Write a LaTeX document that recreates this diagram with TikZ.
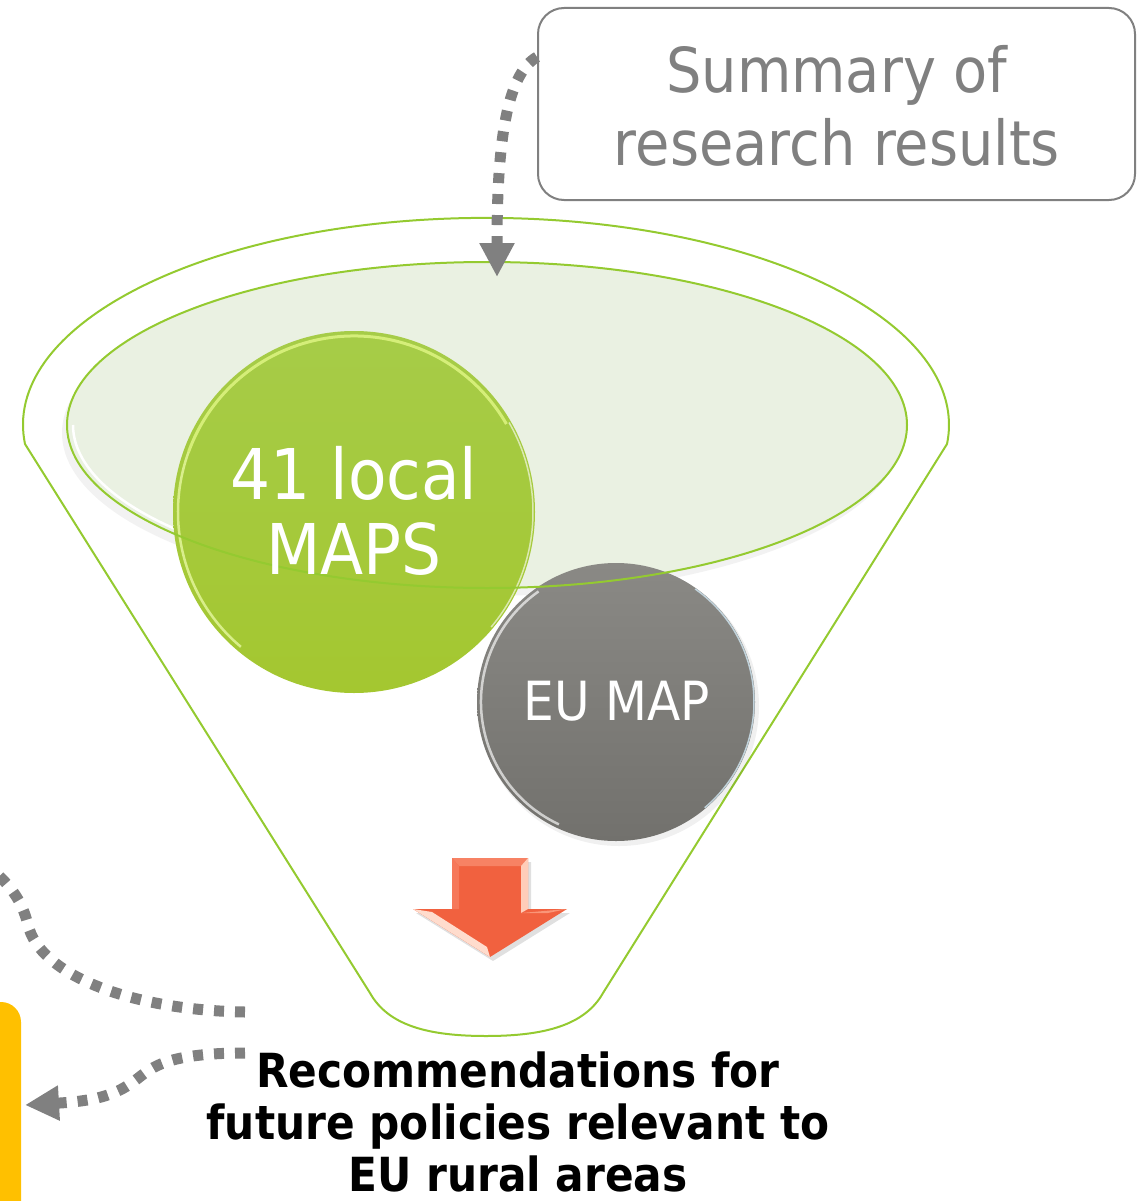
\documentclass[tikz,border=0pt]{standalone}
\usepackage{fontspec}
\setmainfont{DejaVu Sans}[FakeStretch=0.9]
\usetikzlibrary{arrows.meta,calc,shapes.geometric}
\definecolor{fgreen}{RGB}{148,202,48}
\definecolor{ellfill}{RGB}{234,241,226}
\definecolor{agray}{RGB}{128,128,128}
\definecolor{txtgray}{RGB}{128,128,128}
\definecolor{orng}{RGB}{241,97,63}
\definecolor{ylw}{RGB}{255,192,0}
\tikzset{
  funnelline/.style={draw=fgreen, line width=2pt},
  dotconn/.style={draw=agray, line width=11pt, dash pattern=on 10pt off 11pt},
  tipconn/.style={-{Triangle[width=33pt,length=34pt]}},
  bigtxt/.style={font=\fontsize{62}{73}\selectfont, text=txtgray, align=center, inner sep=0pt},
  circtxt/.style={font=\fontsize{70}{75}\selectfont, text=white, align=center, inner sep=0pt},
  boldtxt/.style={font=\fontsize{47}{52}\selectfont\bfseries, text=black, align=center, inner sep=0pt},
}
\begin{document}
\begin{tikzpicture}[x=1pt,y=-1pt]
\useasboundingbox (0,0) rectangle (1139,1201);
\clip (0,0) rectangle (1139,1201);

% outer funnel
\draw[funnelline] (25,444) arc[start angle=174.7, end angle=365.3, x radius=463, y radius=207]
  -- (603,993) .. controls (585,1025) and (545,1036) .. (486,1036)
  .. controls (427,1036) and (388,1025) .. (370,993) -- cycle;

% inner ellipse fill with soft shadow
\fill[black, opacity=0.05] (482,433) ellipse [x radius=420, y radius=163];
\fill[ellfill] (487,425) ellipse [x radius=420, y radius=163];
\draw[white, line width=2.5pt] (487,425) ++(125:414 and 158) arc[start angle=125, end angle=180, x radius=414, y radius=158];

% green circle
\shade[top color={rgb,255:red,166;green,204;blue,72}, middle color={rgb,255:red,150;green,196;blue,22}, bottom color={rgb,255:red,164;green,199;blue,48}]
  (354,512) circle [radius=181];
\draw[line width=3pt, color={rgb,255:red,222;green,245;blue,130}, opacity=0.85]
  (354,512) ++(200:176) arc[start angle=200, end angle=330, radius=176];
\draw[line width=2.5pt, color={rgb,255:red,230;green,248;blue,160}, opacity=0.8]
  (354,512) ++(130:176) arc[start angle=130, end angle=200, radius=176];
\draw[line width=1.5pt, white, opacity=0.6]
  (354,512) ++(-30:179) arc[start angle=-30, end angle=40, radius=179];
\node[circle, minimum size=362pt, inner sep=0pt] (local) at (354,512) {};

% grey circle
\fill[black, opacity=0.06] (619,706) circle [radius=140];
\shade[top color={rgb,255:red,138;green,137;blue,133}, bottom color={rgb,255:red,114;green,113;blue,109}]
  (616,702) circle [radius=139];
\draw[line width=2.5pt, white, opacity=0.65]
  (616,702) ++(115:135) arc[start angle=115, end angle=235, radius=135];
\draw[line width=1.5pt, color={rgb,255:red,200;green,220;blue,230}, opacity=0.9]
  (616,702) ++(-55:138) arc[start angle=-55, end angle=50, radius=138];
\node[circle, minimum size=278pt, inner sep=0pt] (eu) at (616,702) {};

% inner ellipse outline (in front of the circles)
\draw[fgreen, line width=2pt] (487,425) ellipse [x radius=420, y radius=163];
\node[ellipse, inner sep=0pt] (top) at (487,425) {};

% circle texts
\node[circtxt] (localtxt) at (354,511) {41 local\\MAPS};
\node[font=\fontsize{54}{60}\selectfont, text=white, inner sep=0pt] (eutxt) at (617,701) {EU MAP};

% orange arrow
\fill[black, opacity=0.12] (456,862) -- (531,862) -- (531,913) -- (570,913) -- (493,961) -- (416,913) -- (456,913) -- cycle;
\fill[orng] (452,858) -- (528,858) -- (528,909) -- (567,909) -- (490,957) -- (413,909) -- (452,909) -- cycle;
\fill[color={rgb,255:red,247;green,130;blue,100}] (452,858) -- (528,858) -- (521,866) -- (459,866) -- cycle;
\fill[color={rgb,255:red,246;green,120;blue,90}] (452,858) -- (459,866) -- (459,909) -- (452,909) -- cycle;
\fill[color={rgb,255:red,255;green,205;blue,185}] (528,858) -- (528,909) -- (521,913) -- (521,866) -- cycle;
\fill[color={rgb,255:red,255;green,220;blue,205}] (413,909) -- (490,957) -- (487,947) -- (432,912) -- cycle;
\fill[color={rgb,255:red,250;green,150;blue,120}] (521,913) -- (567,909) -- (548,913) -- cycle;
\node[inner sep=0pt, minimum width=154pt, minimum height=99pt] (down) at (490,907) {};

% summary box
\node[draw=agray, line width=2pt, rounded corners=26pt, minimum width=597pt, minimum height=192pt, inner sep=0pt] (summary) at (836.5,104) {};
\node[bigtxt] (sumtxt) at (837,106) {Summary of\\research results};

% recommendations
\node[boldtxt] (rec) at (518,1122) {Recommendations for\\future policies relevant to\\EU rural areas};

% yellow box
\fill[ylw, rounded corners=20pt] (-60,1002) rectangle (21,1240);
\coordinate (yb) at (25,1105);

% connectors
\coordinate (s1) at (537,57);
\draw[dotconn, tipconn] (s1) .. controls (505,75) and (497,150) .. (497,277);

\coordinate (c1) at (245,1012);
\coordinate (c1end) at (-5,872);
\draw[dotconn] (c1) .. controls (130,1010) and (40,975) .. (28,925) .. controls (22,900) and (10,886) .. (c1end);

\coordinate (c2) at (245,1053);
\draw[dotconn, tipconn] (c2) .. controls (160,1053) and (150,1070) .. (133,1082) .. controls (115,1095) and (95,1101) .. (yb);
\end{tikzpicture}
\end{document}
